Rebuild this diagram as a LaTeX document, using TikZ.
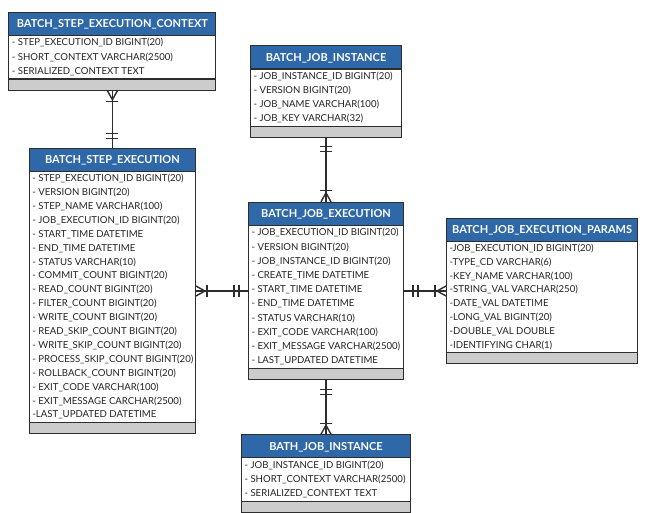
\documentclass[tikz,border=0pt]{standalone}
\usepackage{fontspec}
\setmainfont{Lato}
\usetikzlibrary{positioning,shapes.multipart}

\definecolor{hdrblue}{RGB}{46,104,168}
\definecolor{footgray}{RGB}{204,204,204}
\definecolor{edgegray}{RGB}{45,45,45}
\definecolor{rowtext}{RGB}{35,35,35}

% [row spacing] width, title, rows
\newcommand{\erdtable}[4][14.2pt]{%
  \nodepart{one}\makebox[#2]{\rule[-7pt]{0pt}{22pt}\color{white}\bfseries\fontsize{11}{12}\selectfont #3}%
  \nodepart{two}\makebox[#2][l]{\color{rowtext}\fontsize{9.6}{#1}\selectfont
    \begin{tabular}{@{}l@{}}#4\end{tabular}}%
  \nodepart{three}}

\tikzset{
  dbtable/.style={rectangle split, rectangle split parts=3, draw=edgegray,
    line width=1.1pt, rectangle split part fill={hdrblue,white,footgray},
    inner xsep=3pt, inner ysep=0pt,
    rectangle split empty part height=10pt, rectangle split empty part depth=0pt},
  rel/.style={draw=edgegray, line width=1.4pt},
  manyone/.pic={
    \draw[rel] (0,5pt) -- (9pt,0) -- (0,-5pt);
    \draw[rel] (11pt,6pt) -- (11pt,-6pt);},
  oneone/.pic={
    \draw[rel] (9pt,6pt) -- (9pt,-6pt);
    \draw[rel] (14pt,6pt) -- (14pt,-6pt);}
}

\begin{document}
\begin{tikzpicture}[node distance=50pt]
\useasboundingbox[fill=white] (0,0) rectangle (648pt,-513pt);

\node[dbtable] (jobexec) at (326pt,-291pt) {\erdtable{149pt}{BATCH\_JOB\_EXECUTION}{%
  - JOB\_EXECUTION\_ID BIGINT(20)\\
  - VERSION BIGINT(20)\\
  - JOB\_INSTANCE\_ID BIGINT(20)\\
  - CREATE\_TIME DATETIME\\
  - START\_TIME DATETIME\\
  - END\_TIME DATETIME\\
  - STATUS VARCHAR(10)\\
  - EXIT\_CODE VARCHAR(100)\\
  - EXIT\_MESSAGE VARCHAR(2500)\\
  - LAST\_UPDATED DATETIME}};

\node[dbtable, above=64pt of jobexec] (jobinst) {\erdtable[14pt]{145pt}{BATCH\_JOB\_INSTANCE}{%
  - JOB\_INSTANCE\_ID BIGINT(20)\\
  - VERSION BIGINT(20)\\
  - JOB\_NAME VARCHAR(100)\\
  - JOB\_KEY VARCHAR(32)}};

\node[dbtable, below=54pt of jobexec] (bathinst) {\erdtable{163pt}{BATH\_JOB\_INSTANCE}{%
  - JOB\_INSTANCE\_ID BIGINT(20)\\
  - SHORT\_CONTEXT VARCHAR(2500)\\
  - SERIALIZED\_CONTEXT TEXT}};

\node[dbtable, right=42pt of jobexec] (params) {\erdtable[13.8pt]{185pt}{BATCH\_JOB\_EXECUTION\_PARAMS}{%
  -JOB\_EXECUTION\_ID BIGINT(20)\\
  -TYPE\_CD VARCHAR(6)\\
  -KEY\_NAME VARCHAR(100)\\
  -STRING\_VAL VARCHAR(250)\\
  -DATE\_VAL DATETIME\\
  -LONG\_VAL BIGINT(20)\\
  -DOUBLE\_VAL DOUBLE\\
  -IDENTIFYING CHAR(1)}};

\node[dbtable, left=52pt of jobexec] (stepexec) {\erdtable[13.9pt]{160pt}{BATCH\_STEP\_EXECUTION}{%
  - STEP\_EXECUTION\_ID BIGINT(20)\\
  - VERSION BIGINT(20)\\
  - STEP\_NAME VARCHAR(100)\\
  - JOB\_EXECUTION\_ID BIGINT(20)\\
  - START\_TIME DATETIME\\
  - END\_TIME DATETIME\\
  - STATUS VARCHAR(10)\\
  - COMMIT\_COUNT BIGINT(20)\\
  - READ\_COUNT BIGINT(20)\\
  - FILTER\_COUNT BIGINT(20)\\
  - WRITE\_COUNT BIGINT(20)\\
  - READ\_SKIP\_COUNT BIGINT(20)\\
  - WRITE\_SKIP\_COUNT BIGINT(20)\\
  - PROCESS\_SKIP\_COUNT BIGINT(20)\\
  - ROLLBACK\_COUNT BIGINT(20)\\
  - EXIT\_CODE VARCHAR(100)\\
  - EXIT\_MESSAGE CARCHAR(2500)\\
  -LAST\_UPDATED DATETIME}};

\node[dbtable, above=57pt of stepexec] (stepctx) {\erdtable{201pt}{BATCH\_STEP\_EXECUTION\_CONTEXT}{%
  - STEP\_EXECUTION\_ID BIGINT(20)\\
  - SHORT\_CONTEXT VARCHAR(2500)\\
  - SERIALIZED\_CONTEXT TEXT}};

% relations
\draw[rel] (stepctx) -- (stepexec);
\draw[rel] (jobinst) -- (jobexec);
\draw[rel] (jobexec) -- (bathinst);
\draw[rel] (stepexec) -- (jobexec);
\draw[rel] (jobexec) -- (params);

\pic[rotate=-90] at (stepctx.south) {manyone};
\pic[rotate=90] at (stepexec.north) {oneone};
\pic[rotate=-90] at (jobinst.south) {oneone};
\pic[rotate=90] at (jobexec.north) {manyone};
\pic[rotate=-90] at (jobexec.south) {oneone};
\pic[rotate=90] at (bathinst.north) {manyone};
\pic at (stepexec.east) {manyone};
\pic[rotate=180] at (jobexec.west) {oneone};
\pic at (jobexec.east) {oneone};
\pic[rotate=180] at (params.west) {manyone};

\end{tikzpicture}
\end{document}
